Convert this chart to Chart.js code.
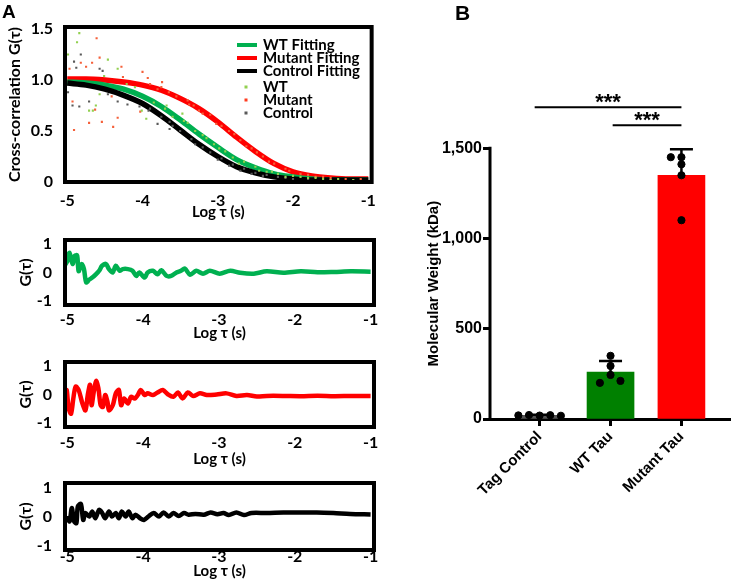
<!DOCTYPE html>
<html>
<head>
<meta charset="utf-8">
<script src="https://cdn.jsdelivr.net/npm/chart.js@4.4.1/dist/chart.umd.min.js"></script>
<style>
  body { margin: 0; background: #fff; width: 735px; height: 579px; position: relative; overflow: hidden; }
  canvas { position: absolute; }
</style>
</head>
<body>
<canvas id="fitChart" style="left:0;top:0" width="385" height="224"></canvas>
<canvas id="wtRes" style="left:0;top:226px" width="385" height="118"></canvas>
<canvas id="mutRes" style="left:0;top:346px" width="385" height="124"></canvas>
<canvas id="ctlRes" style="left:0;top:472px" width="385" height="109"></canvas>
<canvas id="mwChart" style="left:420px;top:0" width="315" height="579"></canvas>
<script>
// ---- Panel A data ----
const logTicks = [-5, -4, -3, -2, -1];
const fitX = [-5, -4.75, -4.5, -4.25, -4, -3.75, -3.5, -3.25, -3, -2.75, -2.5, -2.25, -2, -1.75, -1.5, -1.25, -1];
const wtFit = [0.98, 0.97, 0.95, 0.91, 0.84, 0.74, 0.61, 0.47, 0.34, 0.22, 0.14, 0.08, 0.05, 0.03, 0.02, 0.02, 0.02];
const mutantFit = [1.01, 1.01, 1.0, 0.98, 0.95, 0.90, 0.82, 0.72, 0.59, 0.44, 0.30, 0.18, 0.10, 0.06, 0.04, 0.03, 0.03];
const controlFit = [0.97, 0.95, 0.91, 0.85, 0.77, 0.65, 0.51, 0.37, 0.25, 0.15, 0.09, 0.05, 0.03, 0.02, 0.02, 0.02, 0.02];

const wtDots = [[-4.84,1.46],[-4.87,1.37],[-4.99,1.25],[-4.46,1.2],[-4.33,1.11],[-4.51,1.04],[-4.57,0.86],
  [-4.62,0.75],[-4.66,0.7],[-4.71,0.7],[-4.21,0.96],[-4.1,0.93],[-4.01,0.7],[-3.95,0.62],[-3.68,0.75],
  [-3.47,0.67],[-3.85,0.78],[-3.7,0.72],[-3.6,0.64],[-3.45,0.6],[-3.3,0.5],[-3.2,0.46],[-3.05,0.37],
  [-2.9,0.3],[-2.8,0.24],[-2.65,0.2],[-2.5,0.15],[-2.35,0.1],[-2.2,0.08],[-2.0,0.06],[-1.8,0.04],
  [-1.6,0.03],[-1.4,0.03],[-1.2,0.02],[-3.4,0.58],[-3.15,0.43],[-2.98,0.33],[-2.72,0.18],[-2.45,0.11],
  [-2.28,0.1],[-2.1,0.05],[-1.9,0.05],[-1.7,0.04],[-1.5,0.02]];
const mutantDots = [[-4.61,1.41],[-4.82,1.17],[-4.75,1.13],[-4.67,1.17],[-4.57,1.22],[-4.28,1.13],[-4.0,1.08],
  [-3.93,1.02],[-4.26,1.03],[-4.41,0.84],[-4.93,0.79],[-4.63,0.71],[-4.71,0.58],[-4.54,0.59],[-4.33,0.63],
  [-4.91,0.51],[-4.39,0.54],[-3.75,0.93],[-4.03,0.69],[-4.97,1.11],[-3.74,0.98],[-3.38,0.76],[-3.32,0.75],
  [-3.9,0.96],[-3.8,0.91],[-3.65,0.88],[-3.55,0.84],[-3.4,0.8],[-3.25,0.7],[-3.1,0.66],[-2.95,0.55],
  [-2.85,0.5],[-2.7,0.41],[-2.55,0.33],[-2.4,0.25],[-2.25,0.18],[-2.1,0.13],[-1.9,0.08],[-1.7,0.05],
  [-1.5,0.04],[-1.3,0.03],[-1.1,0.03],[-3.2,0.67],[-3.02,0.57],[-2.78,0.47],[-2.62,0.35],[-2.48,0.29],
  [-2.32,0.2],[-2.05,0.11],[-1.8,0.07],[-1.6,0.05]];
const controlDots = [[-4.82,1.25],[-4.91,1.18],[-4.88,1.12],[-4.57,1.11],[-4.53,1.09],[-4.93,0.75],[-4.84,0.74],
  [-4.71,0.79],[-4.99,0.88],[-4.46,0.86],[-4.33,0.79],[-4.2,0.76],[-4.04,0.74],[-3.92,0.7],[-3.8,0.57],
  [-3.64,0.52],[-3.64,0.59],[-3.9,0.72],[-3.75,0.64],[-3.6,0.55],[-3.5,0.5],[-3.35,0.42],[-3.2,0.34],
  [-3.1,0.29],[-2.95,0.23],[-2.8,0.17],[-2.65,0.13],[-2.5,0.09],[-2.35,0.07],[-2.2,0.05],[-2.0,0.03],
  [-1.8,0.03],[-1.5,0.02],[-1.2,0.02],[-3.3,0.37],[-3.0,0.22],[-2.85,0.16],[-2.7,0.11],[-2.55,0.08],
  [-2.4,0.06],[-2.1,0.04]];

const wtResidual = [[-5.07,0.12],[-5,0.4],[-4.97,0.7],[-4.93,0.3],[-4.9,0.6],[-4.87,0.6],[-4.85,0.05],[-4.81,0.3],
  [-4.78,0.12],[-4.75,-0.35],[-4.71,-0.25],[-4.67,-0.18],[-4.62,-0.06],[-4.58,0.06],[-4.54,0.24],[-4.49,0.3],
  [-4.45,0.12],[-4.4,0],[-4.36,0.24],[-4.31,0.06],[-4.27,0.12],[-4.2,0.12],[-4.14,0.06],[-4.09,-0.12],[-4.05,0],
  [-3.98,-0.18],[-3.94,0],[-3.87,0.06],[-3.81,-0.06],[-3.76,0.08],[-3.69,-0.12],[-3.63,-0.12],[-3.56,0],
  [-3.5,0.06],[-3.45,0.14],[-3.38,-0.08],[-3.3,0.06],[-3.21,-0.04],[-3.12,0.06],[-2.99,-0.04],[-2.85,0.06],
  [-2.72,-0.01],[-2.54,-0.04],[-2.37,0.04],[-2.15,-0.01],[-1.92,0.04],[-1.7,0.01],[-1.48,0.02],[-1.26,0.04],[-1,0.03]];
const mutantResidual = [[-5.07,-1.05],[-5.04,-0.75],[-5.01,0.16],[-4.98,-0.5],[-4.95,-0.68],[-4.92,-0.14],[-4.89,0.28],
  [-4.85,0.16],[-4.8,-0.32],[-4.76,-0.56],[-4.73,-0.02],[-4.7,0.34],[-4.68,-0.38],[-4.65,0.1],[-4.62,0.48],
  [-4.59,0.22],[-4.56,-0.38],[-4.53,-0.44],[-4.5,-0.02],[-4.47,-0.26],[-4.45,-0.56],[-4.4,-0.38],[-4.36,0.04],
  [-4.32,0.16],[-4.29,-0.38],[-4.25,-0.14],[-4.2,-0.32],[-4.16,-0.08],[-4.11,-0.14],[-4.07,-0.02],[-4.03,0.16],
  [-3.98,-0.02],[-3.94,0.04],[-3.87,-0.02],[-3.81,0.07],[-3.74,0.16],[-3.67,0],[-3.6,-0.08],[-3.54,0.07],
  [-3.48,-0.14],[-3.41,0.07],[-3.34,-0.05],[-3.25,0.04],[-3.16,-0.02],[-3.03,0],[-2.9,0.04],[-2.77,-0.05],
  [-2.63,-0.02],[-2.5,-0.07],[-2.37,-0.05],[-2.15,-0.05],[-1.92,-0.06],[-1.7,-0.04],[-1.48,-0.06],[-1.26,-0.05],[-1,-0.05]];
const controlResidual = [[-5.04,-0.12],[-5,-0.06],[-4.97,-0.17],[-4.94,0.29],[-4.91,-0.17],[-4.88,-0.23],[-4.86,0.35],
  [-4.82,0.43],[-4.79,-0.12],[-4.76,0.12],[-4.71,0],[-4.67,0.17],[-4.63,-0.06],[-4.58,0.23],[-4.54,0.12],
  [-4.5,-0.06],[-4.45,0.17],[-4.41,0],[-4.36,0.12],[-4.32,-0.06],[-4.28,0.17],[-4.23,0],[-4.19,0.17],
  [-4.14,-0.06],[-4.1,0.06],[-4.04,-0.06],[-3.99,-0.12],[-3.93,0],[-3.86,0.12],[-3.79,0],[-3.73,0.14],
  [-3.66,0],[-3.6,0.12],[-3.53,0.02],[-3.46,0.12],[-3.4,0.06],[-3.31,0.09],[-3.2,0.06],[-3.11,0.14],
  [-3.02,0.08],[-2.94,0.12],[-2.87,0.05],[-2.77,0.14],[-2.67,0.05],[-2.57,0.12],[-2.37,0.12],[-2.15,0.14],
  [-1.93,0.14],[-1.71,0.14],[-1.49,0.12],[-1.27,0.09],[-1,0.07]];

// ---- Panel B data ----
const groups = ['Tag Control', 'WT Tau', 'Mutant Tau'];
const groupMeans = [20, 260, 1350];
const groupSD = [3, 61, 144];
const tagPoints = [20, 22, 19, 21, 18];
const wtPoints = [350, 294, 244, 200, 211];
const mutantPoints = [1450, 1450, 1411, 1350, 1101];
const tagJitter = [-0.3, -0.15, 0, 0.15, 0.3];
const wtJitter = [0, 0, 0, -0.15, 0.14];
const mutantJitter = [-0.15, 0, 0, 0, 0];
const mwTicks = [0, 500, 1000, 1500];
const sigLevels = [1727, 1627];
const sigStart = [-0.07, 1.03];
const sigEnd = [2, 2];

const GREEN = '#00b050', RED = '#ff0000';
const toXY = arr => arr.map(([x, y]) => ({ x, y }));
const fontA = (size) => ({ family: 'Lato', weight: 'bold', size });

// frame around the plot area + y tick labels at a fixed right edge
const boxPlugin = {
  id: 'box',
  afterDraw(chart, args, opts) {
    const { ctx, chartArea: a, scales: { y } } = chart;
    ctx.save();
    ctx.lineWidth = 4;
    ctx.strokeStyle = '#000';
    ctx.strokeRect(a.left, a.top, a.right - a.left, a.bottom - a.top);
    ctx.fillStyle = '#000';
    ctx.font = 'bold 16px Lato';
    ctx.textAlign = 'right';
    ctx.textBaseline = 'middle';
    opts.ticks.forEach(v => ctx.fillText(opts.fmt(v), opts.right, y.getPixelForValue(v)));
    ctx.restore();
  }
};

function panelScales(cfg) {
  return {
    x: {
      type: 'linear', min: -5.03, max: -0.955,
      afterBuildTicks: s => { s.ticks = logTicks.map(v => ({ value: v })); },
      afterFit: s => { s.height = cfg.xh; },
      grid: { display: false, drawTicks: false }, border: { display: false },
      ticks: { padding: cfg.tickPad, color: '#000', font: fontA(16), maxRotation: 0, autoSkip: false, callback: v => String(v) },
      title: { display: true, text: 'Log τ (s)', color: '#000', font: fontA(15), padding: { top: 0, bottom: 0 } }
    },
    y: {
      min: cfg.ymin, max: cfg.ymax,
      afterFit: s => { s.width = 65; },
      grid: { display: false, drawTicks: false }, border: { display: false },
      ticks: { display: false },
      title: { display: true, text: cfg.ytitle, color: '#000', font: fontA(cfg.ytitleSize), padding: { top: cfg.ytitlePad, bottom: 0 } }
    }
  };
}

// ---- A: correlation curves ----
const legendPlugin = {
  id: 'fitLegend',
  afterDraw(chart) {
    const ctx = chart.ctx;
    ctx.save();
    ctx.font = 'bold 15px Lato';
    ctx.textBaseline = 'middle';
    const lines = [['WT Fitting', GREEN, 45], ['Mutant Fitting', RED, 58], ['Control Fitting', '#000', 71]];
    lines.forEach(([t, c, y]) => {
      ctx.strokeStyle = c; ctx.lineWidth = 4;
      ctx.beginPath(); ctx.moveTo(237, y); ctx.lineTo(257, y); ctx.stroke();
      ctx.fillStyle = '#000'; ctx.fillText(t, 263, y);
    });
    const dots = [['WT', '#92d050', 87], ['Mutant', '#ff3b1f', 100], ['Control', '#595959', 113]];
    dots.forEach(([t, c, y]) => {
      ctx.fillStyle = c; ctx.fillRect(244.5, y - 1.5, 3, 3);
      ctx.fillStyle = '#000'; ctx.fillText(t, 263, y);
    });
    ctx.font = 'bold 19px "Liberation Sans"';
    ctx.textBaseline = 'alphabetic';
    ctx.fillText('A', 2, 18);
    ctx.restore();
  }
};

new Chart(document.getElementById('fitChart'), {
  type: 'scatter',
  data: {
    datasets: [
      { data: toXY(wtDots), backgroundColor: '#92d050', borderWidth: 0, pointStyle: 'rect', pointRadius: 1.5, order: 0 },
      { data: toXY(mutantDots), backgroundColor: '#f5603a', borderWidth: 0, pointStyle: 'rect', pointRadius: 1.5, order: 0 },
      { data: toXY(controlDots), backgroundColor: '#595959', borderWidth: 0, pointStyle: 'rect', pointRadius: 1.5, order: 0 },
      { type: 'line', data: fitX.map((x, i) => ({ x, y: controlFit[i] })), borderColor: '#000', borderWidth: 5.5, pointRadius: 0, cubicInterpolationMode: 'monotone', order: 1 },
      { type: 'line', data: fitX.map((x, i) => ({ x, y: wtFit[i] })), borderColor: GREEN, borderWidth: 5.5, pointRadius: 0, cubicInterpolationMode: 'monotone', order: 1 },
      { type: 'line', data: fitX.map((x, i) => ({ x, y: mutantFit[i] })), borderColor: RED, borderWidth: 5.5, pointRadius: 0, cubicInterpolationMode: 'monotone', order: 1 }
    ]
  },
  options: {
    responsive: false, animation: false,
    layout: { padding: { top: 27, bottom: 3, left: 0, right: 11 } },
    plugins: {
      legend: { display: false }, tooltip: { enabled: false },
      box: { ticks: [0, 0.5, 1, 1.5], fmt: v => v === 0 ? '0' : v.toFixed(1), right: 53 }
    },
    scales: panelScales({ xh: 39, tickPad: 9, ymin: 0, ymax: 1.52, ytitle: 'Cross-correlation G(τ)', ytitleSize: 16, ytitlePad: 5 })
  },
  plugins: [boxPlugin, legendPlugin]
});

// ---- A: residual panels ----
function residualChart(id, points, color, cfg) {
  new Chart(document.getElementById(id), {
    type: 'scatter',
    data: {
      datasets: [{ type: 'line', data: toXY(points), borderColor: color, borderWidth: 4.5, pointRadius: 0, tension: 0.3 }]
    },
    options: {
      responsive: false, animation: false,
      layout: { padding: { top: cfg.padTop, bottom: cfg.padBottom, left: 0, right: 11 } },
      plugins: {
        legend: { display: false }, tooltip: { enabled: false },
        box: { ticks: [-1, 0, 1], fmt: v => String(v), right: 52 }
      },
      scales: panelScales({ xh: cfg.xh, tickPad: cfg.tickPad, ymin: -1.15, ymax: 1.15, ytitle: 'G(τ)', ytitleSize: 16, ytitlePad: 16 })
    },
    plugins: [boxPlugin]
  });
}
residualChart('wtRes', wtResidual, GREEN, { padTop: 14, padBottom: 2, xh: 37, tickPad: 5 });
residualChart('mutRes', mutantResidual, RED, { padTop: 16, padBottom: 2, xh: 41, tickPad: 6 });
residualChart('ctlRes', controlResidual, '#000', { padTop: 11, padBottom: 1, xh: 30, tickPad: -3 });

// ---- B: molecular weight ----
const dotData = [];
tagPoints.forEach((v, i) => dotData.push({ x: 0 + tagJitter[i], y: v }));
wtPoints.forEach((v, i) => dotData.push({ x: 1 + wtJitter[i], y: v }));
mutantPoints.forEach((v, i) => dotData.push({ x: 2 + mutantJitter[i], y: v }));

const mwPlugin = {
  id: 'mwExtras',
  afterDatasetDraw(chart, args) {
    if (args.index !== 1) return;
    const { ctx, scales: { x, y } } = chart;
    ctx.save();
    ctx.strokeStyle = '#000';
    ctx.lineWidth = 2.5;
    groupMeans.forEach((m, i) => {
      const px = x.getPixelForValue(i);
      const top = y.getPixelForValue(m + groupSD[i]);
      ctx.beginPath();
      ctx.moveTo(px, y.getPixelForValue(m)); ctx.lineTo(px, top);
      ctx.moveTo(px - 11.5, top); ctx.lineTo(px + 11.5, top);
      ctx.stroke();
    });
    ctx.restore();
  },
  afterDraw(chart) {
    const { ctx, chartArea: a, scales: { x, y } } = chart;
    ctx.save();
    // y axis line, only up to the last tick
    ctx.strokeStyle = '#000';
    ctx.lineWidth = 3;
    ctx.beginPath();
    ctx.moveTo(a.left, y.getPixelForValue(0) + 1.5);
    ctx.lineTo(a.left, y.getPixelForValue(1500) - 1.5);
    ctx.stroke();
    // significance stars
    ctx.fillStyle = '#000';
    ctx.textAlign = 'center';
    ctx.textBaseline = 'alphabetic';
    ctx.font = 'bold 22px "Liberation Sans"';
    sigLevels.forEach((lv, i) => {
      const cx = x.getPixelForValue((sigStart[i] + sigEnd[i]) / 2);
      ctx.fillText('***', cx, y.getPixelForValue(lv) + 2);
    });
    // axis title
    ctx.font = 'bold 15px "Liberation Sans"';
    ctx.translate(14, (y.getPixelForValue(0) + y.getPixelForValue(1500)) / 2);
    ctx.rotate(-Math.PI / 2);
    ctx.textBaseline = 'middle';
    ctx.fillText('Molecular Weight (kDa)', 0, 0);
    ctx.restore();
    ctx.save();
    ctx.font = 'bold 21px "Liberation Sans"';
    ctx.fillStyle = '#000';
    ctx.textBaseline = 'alphabetic';
    ctx.fillText('B', 35, 20);
    ctx.restore();
  }
};

new Chart(document.getElementById('mwChart'), {
  type: 'bar',
  data: {
    datasets: [
      { type: 'scatter', data: dotData, backgroundColor: '#000', borderColor: '#000', pointRadius: 3.6, order: 0 },
      { type: 'bar', data: groups.map((g, i) => ({ x: i, y: groupMeans[i] })), backgroundColor: ['#555555', '#008000', RED], barThickness: 47, order: 1 },
      { type: 'line', data: [{ x: sigStart[0], y: sigLevels[0] }, { x: sigEnd[0], y: sigLevels[0] }], borderColor: '#000', borderWidth: 2, pointRadius: 0, order: 0 },
      { type: 'line', data: [{ x: sigStart[1], y: sigLevels[1] }, { x: sigEnd[1], y: sigLevels[1] }], borderColor: '#000', borderWidth: 2, pointRadius: 0, order: 0 }
    ]
  },
  options: {
    responsive: false, animation: false,
    layout: { padding: { top: 85, bottom: 0, left: 0, right: 3 } },
    plugins: { legend: { display: false }, tooltip: { enabled: false } },
    scales: {
      x: {
        type: 'linear', min: -0.7, max: 2.685, offset: false,
        afterBuildTicks: s => { s.ticks = groups.map((g, i) => ({ value: i })); },
        afterFit: s => { s.height = 160; },
        grid: { offset: false, drawOnChartArea: false, drawTicks: true, tickLength: 7, tickWidth: 3, tickColor: '#000' },
        border: { display: true, width: 3, color: '#000' },
        ticks: { color: '#000', font: { family: 'Liberation Sans', weight: 'bold', size: 15 }, minRotation: 45, maxRotation: 45, autoSkip: false, padding: 2, callback: v => groups[v] }
      },
      y: {
        min: 0, max: 1850,
        afterBuildTicks: s => { s.ticks = mwTicks.map(v => ({ value: v })); },
        afterFit: s => { s.width = 70; },
        grid: { drawOnChartArea: false, drawTicks: true, tickLength: 7, tickWidth: 3, tickColor: '#000' },
        border: { display: false },
        ticks: { color: '#000', font: { family: 'Liberation Sans', weight: 'bold', size: 16 }, padding: 1, callback: v => v.toLocaleString('en-US') }
      }
    }
  },
  plugins: [mwPlugin]
});
</script>
</body>
</html>
